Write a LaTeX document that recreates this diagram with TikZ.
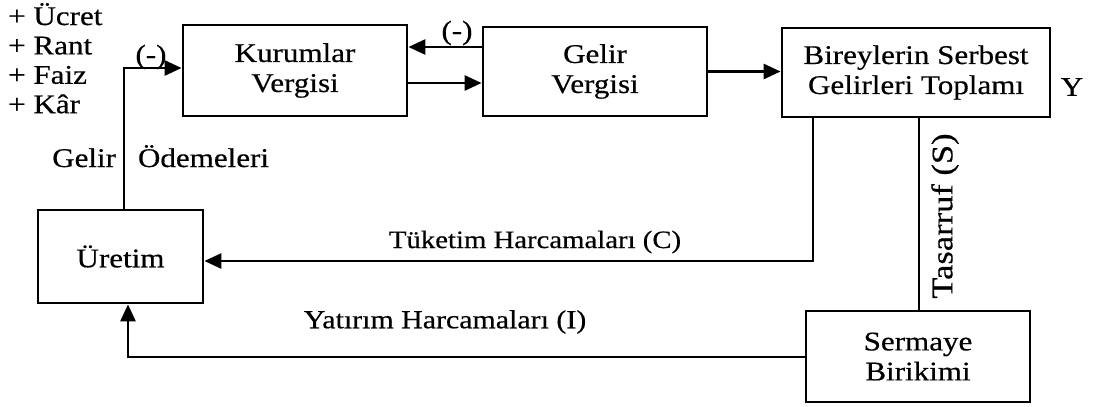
\documentclass[tikz,border=0pt]{standalone}
\usepackage{fontspec}
\setmainfont{Liberation Serif}[FakeStretch=1.15, FakeBold=0.5]
\usetikzlibrary{arrows.meta}

\begin{document}
\begin{tikzpicture}[x=1pt,y=-1pt,
  every node/.style={font=\fontsize{27}{30}\selectfont, inner sep=0pt},
  blok/.style={draw, line width=2.8pt, align=center},
  hat/.style={line width=2.8pt},
  ok/.style={hat, -{Triangle[length=17pt,width=15pt]}},
]
\useasboundingbox (0,0) rectangle (1096,407);

% boxes
\node[blok, minimum width=224pt, minimum height=91pt] (K) at (295,70.5) {Kurumlar\\Vergisi};
\node[blok, minimum width=224pt, minimum height=89pt] (G) at (595,71.5) {Gelir\\Vergisi};
\node[blok, minimum width=268pt, minimum height=89pt] (B) at (916,72.5) {Bireylerin Serbest\\Gelirleri Toplamı};
\node[blok, minimum width=165pt, minimum height=93pt] (U) at (120.5,256.5) {Üretim};
\node[blok, minimum width=224pt, minimum height=91pt] (S) at (918,356.5) {Sermaye\\Birikimi};

% income components (anchored on the baseline of the last line)
\node[anchor=base west, align=left, font=\fontsize{27}{29.4}\selectfont] (gelirler) at (8,113.2)
  {+ Ücret\\+ Rant\\+ Faiz\\+ Kâr};

% production -> corporate tax
\draw[ok] ([xshift=3.5pt]U.north) |- ([yshift=2.5pt]K.west);
\node (eksi1) at (151,57) {(-)};
\node[anchor=base west] (odeme) at (52,167) {Gelir\hspace{22pt}Ödemeleri};

% between the two taxes
\draw[ok] ([yshift=24.5pt]G.west) -- ([yshift=24.5pt]G.west -| K.east);
\node (eksi2) at (457,33) {(-)};
\draw[ok] ([yshift=-12.5pt]K.east) -- ([yshift=-12.5pt]K.east -| G.west);

% income tax -> disposable income
\draw[ok] (G.east) -- (B.west |- G.east);
\node (y) at (1072,87) {Y};

% consumption spending
\coordinate (c1) at (813,261);
\draw[ok] (B.south -| c1) -- (c1) -- (U.east |- c1);
\node[font=\fontsize{25}{28}\selectfont] (tuketim) at (535,242) {Tüketim Harcamaları (C)};

% saving
\draw[hat] ([xshift=3pt]B.south) -- ([xshift=3pt]B.south |- S.north);
\node[rotate=90, font=\fontsize{30}{32}\selectfont] (tasarruf) at (945,216) {Tasarruf (S)};

% investment spending
\coordinate (c2) at (128,357);
\draw[ok] (S.west |- c2) -- (c2) -- (U.south -| c2);
\node[font=\fontsize{26}{29}\selectfont] (yatirim) at (445,322) {Yatırım Harcamaları (I)};
\end{tikzpicture}
\end{document}
